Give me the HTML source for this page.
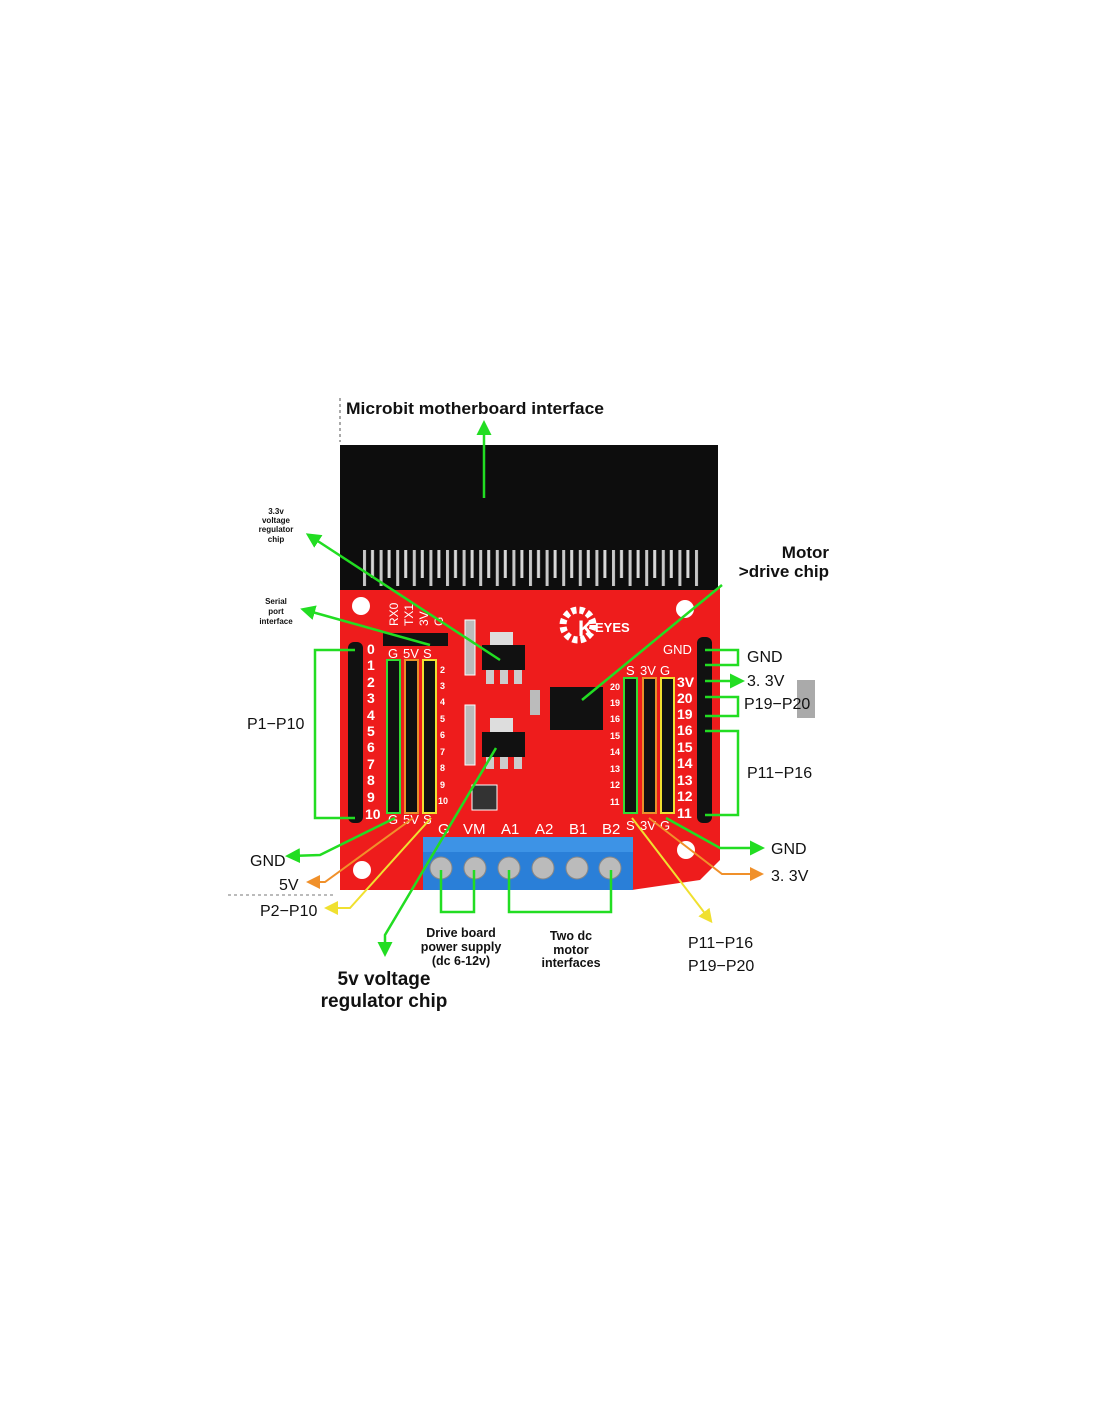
<!DOCTYPE html>
<html><head><meta charset="utf-8"><style>
html,body{margin:0;padding:0;background:#fff}
svg{display:block}
text{font-family:"Liberation Sans",sans-serif}
</style></head><body>
<svg width="1100" height="1422" viewBox="0 0 1100 1422" xmlns="http://www.w3.org/2000/svg">
<defs>
<pattern id="edge" x="362" y="0" width="16.6" height="1422" patternUnits="userSpaceOnUse">
<rect x="1" y="550" width="3" height="36" fill="#c8c8c8"/>
<rect x="9" y="550" width="3" height="28" fill="#d8d8d8"/>
</pattern>
<marker id="ag" markerWidth="6" markerHeight="6" refX="4" refY="3" orient="auto" markerUnits="strokeWidth"><path d="M0,0 L6,3 L0,6 Z" fill="#22dd22"/></marker>
<marker id="ao" markerWidth="7" markerHeight="7" refX="5" refY="3.5" orient="auto" markerUnits="strokeWidth"><path d="M0,0 L7,3.5 L0,7 Z" fill="#f0902a"/></marker>
<marker id="ay" markerWidth="7" markerHeight="7" refX="5" refY="3.5" orient="auto" markerUnits="strokeWidth"><path d="M0,0 L7,3.5 L0,7 Z" fill="#f0e030"/></marker>
</defs>
<rect width="1100" height="1422" fill="#fff"/>
<line x1="340" y1="398" x2="340" y2="442" stroke="#555" stroke-dasharray="3,3"/>
<line x1="228" y1="895" x2="336" y2="895" stroke="#777" stroke-dasharray="3,3"/>
<!-- board -->
<path d="M340,588 L720,588 L720,860 L700,880 L632,890 L340,890 Z" fill="#ee1c1c"/>
<rect x="340" y="445" width="378" height="145" fill="#0d0d0d"/>
<rect x="358" y="545" width="342" height="42" fill="url(#edge)"/>
<!-- holes -->
<circle cx="361" cy="606" r="9" fill="#fff"/><circle cx="685" cy="609" r="9" fill="#fff"/>
<circle cx="362" cy="870" r="9" fill="#fff"/><circle cx="686" cy="850" r="9" fill="#fff"/>
<!-- serial -->
<rect x="383" y="633" width="65" height="13" fill="#111"/>
<text x="398" y="626" font-size="12" fill="#fff" transform="rotate(-90 398 626)">RX0</text>
<text x="413" y="626" font-size="12" fill="#fff" transform="rotate(-90 413 626)">TX1</text>
<text x="428" y="626" font-size="12" fill="#fff" transform="rotate(-90 428 626)">3V</text>
<text x="443" y="626" font-size="12" fill="#fff" transform="rotate(-90 443 626)">G</text>
<!-- left header -->
<rect x="348" y="642" width="15" height="181" rx="6" fill="#111"/>
<g font-size="14" fill="#fff" font-weight="bold">
<text x="367" y="654">0</text><text x="367" y="670">1</text><text x="367" y="687">2</text><text x="367" y="703">3</text><text x="367" y="720">4</text><text x="367" y="736">5</text><text x="367" y="752">6</text><text x="367" y="769">7</text><text x="367" y="785">8</text><text x="367" y="802">9</text><text x="365" y="819">10</text>
</g>
<g font-size="13" fill="#fff">
<text x="388" y="658">G</text><text x="403" y="658">5V</text><text x="423" y="658">S</text>
<text x="388" y="824">G</text><text x="403" y="824">5V</text><text x="423" y="824">S</text>
<text x="626" y="675">S</text><text x="640" y="675">3V</text><text x="660" y="675">G</text>
<text x="626" y="830">S</text><text x="640" y="830">3V</text><text x="660" y="830">G</text>
<text x="663" y="654">GND</text>
</g>
<g font-size="14" fill="#fff" font-weight="bold">
<text x="677" y="687">3V</text><text x="677" y="703">20</text><text x="677" y="719">19</text><text x="677" y="735">16</text><text x="677" y="752">15</text><text x="677" y="768">14</text><text x="677" y="785">13</text><text x="677" y="801">12</text><text x="677" y="818">11</text>
</g>
<g font-size="9" fill="#fff" font-weight="bold">
<text x="440" y="673">2</text><text x="440" y="689">3</text><text x="440" y="705">4</text><text x="440" y="722">5</text><text x="440" y="738">6</text><text x="440" y="755">7</text><text x="440" y="771">8</text><text x="440" y="788">9</text><text x="438" y="804">10</text>
<text x="610" y="690">20</text><text x="610" y="706">19</text><text x="610" y="722">16</text><text x="610" y="739">15</text><text x="610" y="755">14</text><text x="610" y="772">13</text><text x="610" y="788">12</text><text x="610" y="805">11</text>
</g>
<!-- triple headers -->
<rect x="387" y="660" width="13" height="153" fill="#111" stroke="#33dd33" stroke-width="2"/>
<rect x="405" y="660" width="13" height="153" fill="#111" stroke="#e8902a" stroke-width="2"/>
<rect x="423" y="660" width="13" height="153" fill="#111" stroke="#f0e030" stroke-width="2"/>
<rect x="624" y="678" width="13" height="135" fill="#111" stroke="#33dd33" stroke-width="2"/>
<rect x="643" y="678" width="13" height="135" fill="#111" stroke="#e8902a" stroke-width="2"/>
<rect x="661" y="678" width="13" height="135" fill="#111" stroke="#f0e030" stroke-width="2"/>
<rect x="697" y="637" width="15" height="186" rx="6" fill="#111"/>
<!-- regulators -->
<rect x="490" y="632" width="23" height="14" fill="#ddd"/>
<rect x="482" y="645" width="43" height="25" fill="#111"/>
<rect x="486" y="670" width="8" height="14" fill="#ccc"/><rect x="500" y="670" width="8" height="14" fill="#ccc"/><rect x="514" y="670" width="8" height="14" fill="#ccc"/>
<rect x="490" y="718" width="23" height="14" fill="#ddd"/>
<rect x="482" y="732" width="43" height="25" fill="#111"/>
<rect x="486" y="757" width="8" height="12" fill="#ccc"/><rect x="500" y="757" width="8" height="12" fill="#ccc"/><rect x="514" y="757" width="8" height="12" fill="#ccc"/>
<rect x="465" y="620" width="10" height="55" fill="#bbb" stroke="#fff"/>
<rect x="465" y="705" width="10" height="60" fill="#bbb" stroke="#fff"/>
<rect x="472" y="785" width="25" height="25" fill="#333" stroke="#fff"/>
<rect x="530" y="690" width="10" height="25" fill="#bbb"/>
<!-- motor chip -->
<rect x="550" y="687" width="53" height="43" fill="#111"/>
<!-- logo -->
<circle cx="578" cy="625" r="15" fill="none" stroke="#fff" stroke-width="7" stroke-dasharray="5,3"/>
<text x="578" y="636" font-size="22" font-weight="bold" fill="#fff">K</text>
<text x="595" y="632" font-size="13" font-weight="bold" fill="#fff">EYES</text>
<!-- terminal -->
<g font-size="15" fill="#fff"><text x="438" y="834">G</text><text x="463" y="834">VM</text><text x="501" y="834">A1</text><text x="535" y="834">A2</text><text x="569" y="834">B1</text><text x="602" y="834">B2</text></g>
<rect x="423" y="837" width="210" height="53" fill="#2a7fd8"/>
<rect x="423" y="837" width="210" height="15" fill="#3d93e6"/>
<g fill="#bbb" stroke="#888"><circle cx="441" cy="868" r="11"/><circle cx="475" cy="868" r="11"/><circle cx="509" cy="868" r="11"/><circle cx="543" cy="868" r="11"/><circle cx="577" cy="868" r="11"/><circle cx="610" cy="868" r="11"/></g>
<!-- green connectors -->
<g fill="none" stroke="#22dd22" stroke-width="2.5">
<line x1="484" y1="498" x2="484" y2="425" marker-end="url(#ag)"/>
<line x1="500" y1="660" x2="310" y2="536" marker-end="url(#ag)"/>
<line x1="430" y1="645" x2="305" y2="610" marker-end="url(#ag)"/>
<line x1="582" y1="700" x2="722" y2="585"/>
<polyline points="355,650 315,650 315,818 355,818"/>
<polyline points="705,650 738,650 738,665 705,665"/>
<line x1="705" y1="681" x2="740" y2="681" marker-end="url(#ag)"/>
<polyline points="705,697 738,697 738,716 705,716"/>
<polyline points="705,731 738,731 738,815 705,815"/>
<polyline points="395,818 320,855 290,856" marker-end="url(#ag)"/>
<polyline points="666,818 720,848 760,848" marker-end="url(#ag)"/>
<polyline points="496,748 385,935 385,952" marker-end="url(#ag)"/>
<polyline points="441,870 441,912 474,912 474,870"/>
<polyline points="509,870 509,912 611,912 611,870"/>
</g>
<g fill="none" stroke="#f0902a" stroke-width="2">
<polyline points="413,818 325,882 310,882" marker-end="url(#ao)"/>
<polyline points="649,818 722,874 760,874" marker-end="url(#ao)"/>
</g>
<g fill="none" stroke="#f0e030" stroke-width="2">
<polyline points="431,818 350,908 328,908" marker-end="url(#ay)"/>
<line x1="632" y1="818" x2="710" y2="920" marker-end="url(#ay)"/>
</g>
<rect x="797" y="680" width="18" height="38" fill="#aaa"/>
<!-- labels -->
<g fill="#111">
<text x="346" y="414" font-size="16.5" font-weight="bold" textLength="258" lengthAdjust="spacingAndGlyphs">Microbit motherboard interface</text>
<text x="829" y="558" font-size="17" font-weight="bold" text-anchor="end">Motor</text>
<text x="829" y="577" font-size="17" font-weight="bold" text-anchor="end">&gt;drive chip</text>
<g font-size="8" font-weight="bold" text-anchor="middle">
<text x="276" y="514">3.3v</text><text x="276" y="523">voltage</text><text x="276" y="532">regulator</text><text x="276" y="542">chip</text>
<text x="276" y="604">Serial</text><text x="276" y="614">port</text><text x="276" y="624">interface</text>
</g>
<g font-size="16">
<text x="247" y="729">P1−P10</text>
<text x="747" y="662">GND</text><text x="747" y="686">3. 3V</text><text x="744" y="709">P19−P20</text><text x="747" y="778">P11−P16</text>
<text x="250" y="866">GND</text><text x="279" y="890">5V</text><text x="260" y="916">P2−P10</text>
<text x="771" y="854">GND</text><text x="771" y="881">3. 3V</text>
<text x="688" y="948">P11−P16</text><text x="688" y="971">P19−P20</text>
</g>
<g font-size="12.5" font-weight="bold" text-anchor="middle">
<text x="461" y="937">Drive board</text><text x="461" y="951">power supply</text><text x="461" y="965">(dc 6-12v)</text>
<text x="571" y="940">Two dc</text><text x="571" y="954">motor</text><text x="571" y="967">interfaces</text>
</g>
<g font-size="19" font-weight="bold" text-anchor="middle">
<text x="384" y="985">5v voltage</text><text x="384" y="1007">regulator chip</text>
</g>
</g>
</svg>
</body></html>
